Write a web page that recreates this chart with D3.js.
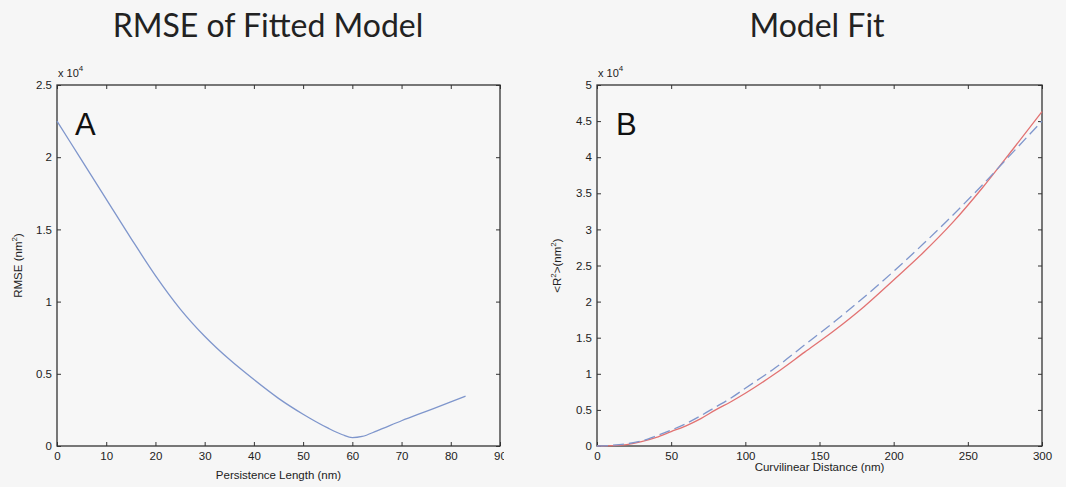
<!DOCTYPE html>
<html>
<head>
<meta charset="utf-8">
<script src="https://cdn.jsdelivr.net/npm/d3@7"></script>
<style>
  body { margin: 0; background: #f6f6f6; }
  svg { display: block; }
  .tick text { font-family: "Liberation Sans", Arial, sans-serif; font-size: 11.5px; fill: #222; }
  .tick line { stroke: #333; }
  .domain { display: none; }
</style>
</head>
<body>
<script>
// panel A: RMSE vs persistence length (values in units of 1e4 nm^2)
var persistLen = [0, 5, 10, 15, 20, 25, 30, 35, 40, 45, 50, 55, 58, 60, 62, 65, 70, 75, 80, 83];
var rmse = [2.25, 1.98, 1.71, 1.44, 1.18, 0.95, 0.76, 0.60, 0.46, 0.33, 0.22, 0.125, 0.078, 0.058, 0.066, 0.105, 0.175, 0.24, 0.305, 0.345];

// panel B: <R^2> vs curvilinear distance (units of 1e4 nm^2)
var curvDist = [0, 10, 20, 30, 40, 50, 60, 70, 80, 90, 100, 120, 140, 160, 180, 200, 220, 240, 260, 280, 300];
var r2Data = [0, 0.005, 0.02, 0.06, 0.12, 0.2, 0.28, 0.38, 0.5, 0.61, 0.73, 1.0, 1.3, 1.6, 1.93, 2.3, 2.68, 3.1, 3.58, 4.1, 4.63];
var r2Model = [0, 0.01, 0.03, 0.07, 0.14, 0.22, 0.31, 0.42, 0.54, 0.66, 0.8, 1.08, 1.4, 1.72, 2.06, 2.42, 2.8, 3.2, 3.62, 4.06, 4.5];

var ticksA_x = [0, 10, 20, 30, 40, 50, 60, 70, 80, 90];
var ticksA_y = [0, 0.5, 1, 1.5, 2, 2.5];
var ticksB_x = [0, 50, 100, 150, 200, 250, 300];
var ticksB_y = [0, 0.5, 1, 1.5, 2, 2.5, 3, 3.5, 4, 4.5, 5];

var width = 1066, height = 487;
var svg = d3.select('body').append('svg').attr('width', width).attr('height', height);
svg.append('rect').attr('width', width).attr('height', height).attr('fill', '#f6f6f6');

svg.append('defs').append('clipPath').attr('id', 'clipA')
  .append('rect').attr('x', 0).attr('y', 0).attr('width', 504).attr('height', height);

function fmt(d) { return d3.format('~g')(d); }

function drawPanel(g, opt) {
  var x = d3.scaleLinear().domain(opt.xDomain).range([opt.left, opt.right]);
  var y = d3.scaleLinear().domain(opt.yDomain).range([opt.bottom, opt.top]);

  g.append('rect')
    .attr('x', opt.left).attr('y', opt.top)
    .attr('width', opt.right - opt.left).attr('height', opt.bottom - opt.top)
    .attr('fill', '#f7f7f7');

  g.append('g').attr('transform', 'translate(0,' + opt.bottom + ')')
    .call(d3.axisBottom(x).tickValues(opt.xTicks).tickSizeInner(-4).tickSizeOuter(0).tickPadding(6).tickFormat(fmt));
  g.append('g').attr('transform', 'translate(0,' + opt.top + ')')
    .call(d3.axisTop(x).tickValues(opt.xTicks).tickSizeInner(-4).tickSizeOuter(0).tickFormat(''));
  g.append('g').attr('transform', 'translate(' + opt.left + ',0)')
    .call(d3.axisLeft(y).tickValues(opt.yTicks).tickSizeInner(-4).tickSizeOuter(0).tickPadding(5).tickFormat(fmt));
  g.append('g').attr('transform', 'translate(' + opt.right + ',0)')
    .call(d3.axisRight(y).tickValues(opt.yTicks).tickSizeInner(-4).tickSizeOuter(0).tickFormat(''));

  g.append('rect')
    .attr('x', opt.left).attr('y', opt.top)
    .attr('width', opt.right - opt.left).attr('height', opt.bottom - opt.top)
    .attr('fill', 'none').attr('stroke', '#333').attr('stroke-width', 1.3);

  opt.series.forEach(function (s) {
    var line = d3.line()
      .x(function (d, i) { return x(s.xs[i]); })
      .y(function (d) { return y(d); })
      .curve(d3.curveMonotoneX);
    g.append('path').datum(s.ys)
      .attr('d', line)
      .attr('fill', 'none')
      .attr('stroke', s.color)
      .attr('stroke-width', 1.3)
      .attr('stroke-dasharray', s.dash || null);
  });

  // x 10^4 multiplier
  var mult = g.append('text')
    .attr('x', opt.left + 1).attr('y', opt.top - 8)
    .style('font-family', '"Liberation Sans", Arial, sans-serif')
    .style('font-size', '11px').attr('fill', '#222');
  mult.append('tspan').text('x 10');
  mult.append('tspan').attr('dy', -6).style('font-size', '8px').text('4');

  // panel letter
  g.append('text')
    .attr('x', opt.left + opt.letterDx).attr('y', opt.top + 50)
    .style('font-family', '"Liberation Sans", Arial, sans-serif')
    .style('font-size', '31px').attr('fill', '#111')
    .text(opt.letter);

  // axis titles
  g.append('text')
    .attr('x', (opt.left + opt.right) / 2).attr('y', opt.xLabelY)
    .attr('text-anchor', 'middle')
    .style('font-family', '"Liberation Sans", Arial, sans-serif')
    .style('font-size', '11.5px').attr('fill', '#222')
    .text(opt.xLabel);

  var yl = g.append('text')
    .attr('transform', 'translate(' + opt.yLabelX + ',' + (opt.top + opt.bottom) / 2 + ') rotate(-90)')
    .attr('text-anchor', 'middle')
    .style('font-family', '"Liberation Sans", Arial, sans-serif')
    .style('font-size', '11.5px').attr('fill', '#222');
  opt.yLabel.forEach(function (p) {
    var t = yl.append('tspan').text(p.t);
    if (p.sup) t.attr('dy', -5).style('font-size', '8px');
    if (p.down) t.attr('dy', 5);
  });

  // title
  g.append('text')
    .attr('x', opt.titleX).attr('y', 37)
    .attr('text-anchor', 'middle')
    .style('font-family', 'Lato, "Open Sans", sans-serif')
    .style('font-size', '32px').attr('fill', '#222')
    .text(opt.title);
}

drawPanel(svg.append('g').attr('clip-path', 'url(#clipA)'), {
  left: 57, right: 500, top: 85, bottom: 446,
  xDomain: [0, 90], yDomain: [0, 2.5],
  xTicks: ticksA_x, yTicks: ticksA_y,
  series: [{ xs: persistLen, ys: rmse, color: '#7f96cc' }],
  letter: 'A', letterDx: 18,
  xLabel: 'Persistence Length (nm)', xLabelY: 479,
  yLabel: [{ t: 'RMSE (nm' }, { t: '2', sup: true }, { t: ')', down: true }], yLabelX: 22,
  title: 'RMSE of Fitted Model', titleX: 268
});

drawPanel(svg.append('g'), {
  left: 597, right: 1042, top: 85, bottom: 446,
  xDomain: [0, 300], yDomain: [0, 5],
  xTicks: ticksB_x, yTicks: ticksB_y,
  series: [
    { xs: curvDist, ys: r2Data, color: '#e27272' },
    { xs: curvDist, ys: r2Model, color: '#7f96cc', dash: '11,5' }
  ],
  letter: 'B', letterDx: 19,
  xLabel: 'Curvilinear Distance (nm)', xLabelY: 471,
  yLabel: [{ t: '<R' }, { t: '2', sup: true }, { t: '>(nm', down: true }, { t: '2', sup: true }, { t: ')', down: true }], yLabelX: 561,
  title: 'Model Fit', titleX: 817
});
</script>
</body>
</html>
